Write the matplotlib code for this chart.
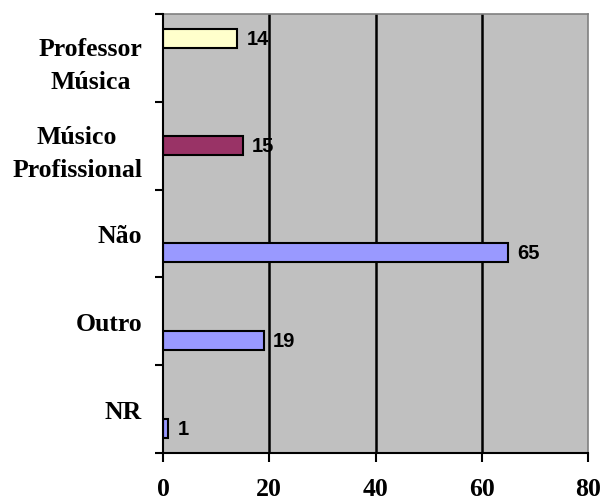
import matplotlib
matplotlib.use("Agg")
import matplotlib.pyplot as plt
import numpy as np

categories = ["Professor\nMúsica", "Músico\nProfissional", "Não", "Outro", "NR"]
series_names = ["Professor Música", "Músico Profissional", "Outros"]
series_values = [
    [14, None, None, None, None],
    [None, 15, None, None, None],
    [None, None, 65, 19, 1],
]
series_colors = ["#FFFFCC", "#993366", "#9999FF"]
x_ticks = [0, 20, 40, 60, 80]

fig = plt.figure(figsize=(6.03, 5.02), dpi=100)
ax = fig.add_axes([163 / 603, 1 - 454 / 502, (588 - 163) / 603, (454 - 15) / 502])
ax.set_facecolor("#C0C0C0")

n = len(categories)
ypos = np.arange(n)[::-1]  # top to bottom
bar_h = 0.216
offsets = [bar_h, 0.0, -bar_h]

for vals, col, off in zip(series_values, series_colors, offsets):
    for yi, v in zip(ypos, vals):
        if v is None:
            continue
        ax.barh(yi + off, v, height=bar_h, color=col, edgecolor="black", linewidth=1.5, zorder=3)
        ax.text(v + 1.7, yi + off, str(v), va="center", ha="left",
                fontsize=14.5, fontweight="bold", family="Liberation Sans", zorder=4)

ax.set_xlim(0, 80)
ax.set_ylim(-0.5, n - 0.5)
ax.set_xticks(x_ticks)
ax.set_xticklabels([str(t) for t in x_ticks], fontsize=18.5, fontweight="bold", family="Liberation Serif")
ax.set_yticks(ypos)
ax.set_yticklabels(categories, fontsize=18.5, fontweight="bold", family="Liberation Serif",
                   multialignment="center", linespacing=1.55)
ax.set_yticks(np.arange(-0.5, n, 1.0), minor=True)
ax.tick_params(axis="y", which="major", length=0, pad=15)
ax.tick_params(axis="y", which="minor", length=6, width=1.5, direction="out", color="black")
ax.tick_params(axis="x", which="major", length=6.5, width=1.5, direction="out", pad=11)

for g in x_ticks[1:-1]:
    ax.axvline(g, color="black", linewidth=1.8, zorder=2)

ax.spines["left"].set_color("black")
ax.spines["left"].set_linewidth(1.5)
ax.spines["bottom"].set_color("black")
ax.spines["bottom"].set_linewidth(1.5)
ax.spines["top"].set_color("#808080")
ax.spines["top"].set_linewidth(1.2)
ax.spines["right"].set_color("#808080")
ax.spines["right"].set_linewidth(1.2)
for s in ["left", "bottom"]:
    ax.spines[s].set_zorder(5)

fig.savefig("out.png", dpi=100, facecolor="white")
